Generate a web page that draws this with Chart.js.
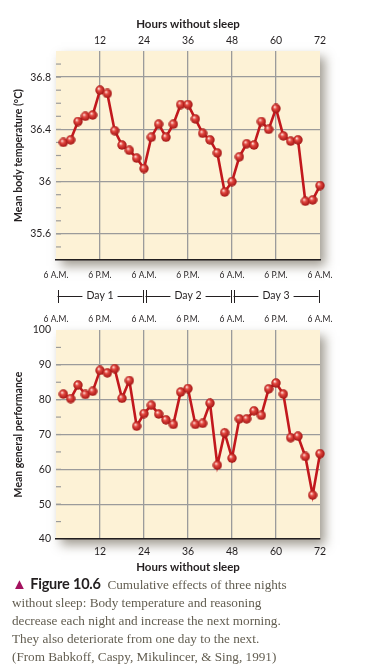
<!DOCTYPE html>
<html><head><meta charset="utf-8">
<script src="https://cdn.jsdelivr.net/npm/chart.js@4"></script>
<style>
html,body{margin:0;padding:0;background:#fff;width:383px;height:671px;overflow:hidden;}
#c1{position:absolute;left:0;top:0;}
#c2{position:absolute;left:0;top:282px;}
#cap{position:absolute;left:12px;top:575px;font-family:'Liberation Serif',serif;font-size:13.2px;line-height:18px;color:#625d50;white-space:nowrap;}
#cap b{font-family:Lato,sans-serif;color:#231f20;font-weight:bold;font-size:14.5px;letter-spacing:-0.2px;}
#cap .tri{color:#a3125f;font-size:15px;}
</style></head><body>
<canvas id="c1" width="383" height="290"></canvas>
<canvas id="c2" width="383" height="298"></canvas>
<div id="cap"><span class="tri">&#9650;</span> <b>Figure 10.6</b>&nbsp; Cumulative effects of three nights<br>without sleep: Body temperature and reasoning<br>decrease each night and increase the next morning.<br>They also deteriorate from one day to the next.<br>(From Babkoff, Caspy, Mikulincer, &amp; Sing, 1991)</div>
<script>
const hours = [2,4,6,8,10,12,14,16,18,20,22,24,26,28,30,32,34,36,38,40,42,44,46,48,50,52,54,56,58,60,62,64,66,68,70,72];
const temperature = [36.30,36.32,36.46,36.50,36.51,36.70,36.675,36.39,36.28,36.24,36.18,36.10,36.34,36.44,36.34,36.44,36.59,36.59,36.48,36.37,36.32,36.22,35.92,36.00,36.19,36.29,36.28,36.46,36.40,36.56,36.35,36.31,36.32,35.85,35.86,35.97];
const performance = [81.6,80.3,84.2,81.5,82.4,88.4,87.7,88.9,80.4,85.5,72.4,76.0,78.4,75.9,74.2,72.9,82.2,83.2,72.9,73.2,79.0,61.2,70.5,63.2,74.5,74.5,76.8,75.5,83.1,84.8,81.6,69.1,69.5,63.7,52.6,64.5];
const hourTicks = [0,12,24,36,48,60,72];
const clockLabels = ['6 A.M.','6 P.M.','6 A.M.','6 P.M.','6 A.M.','6 P.M.','6 A.M.'];
const days = ['Day 1','Day 2','Day 3'];
const dayBounds = [0,24,48,72];

const INK = '#231f20';
const GRID = '#9b9b9b';
const RED = '#c2181d';
const BG = '#fdf2d6';
const FONT = 'Lato, "Open Sans", sans-serif';

function makeBall(){
  const c = document.createElement('canvas'); c.width = 10; c.height = 10;
  const g = c.getContext('2d');
  const grd = g.createRadialGradient(3.6,3.3,0.3,5,5,5);
  grd.addColorStop(0,'#fde0d8'); grd.addColorStop(0.35,'#e2463e'); grd.addColorStop(1,'#9c1010');
  g.fillStyle = grd; g.beginPath(); g.arc(5,5,4.7,0,Math.PI*2); g.fill();
  return c;
}
const ball = makeBall();

const plotBg = {
  id:'plotBg',
  beforeDraw(chart){
    const a = chart.chartArea, ctx = chart.ctx;
    ctx.save();
    ctx.shadowColor = 'rgba(70,60,40,0.5)';
    ctx.shadowBlur = 10; ctx.shadowOffsetX = 5; ctx.shadowOffsetY = 6;
    ctx.fillStyle = BG;
    ctx.fillRect(a.left, a.top, a.right-a.left, a.bottom-a.top);
    ctx.restore();
    ctx.fillStyle = BG;
    ctx.fillRect(a.left, a.top, a.right-a.left, a.bottom-a.top);
  },
  beforeDatasetsDraw(chart){
    const a = chart.chartArea, ctx = chart.ctx, y = chart.scales.y;
    ctx.save(); ctx.strokeStyle = GRID; ctx.lineWidth = 1.2;
    y.ticks.forEach(t => {
      const p = y.getPixelForValue(t.value);
      if (p <= a.top + 1 || p >= a.bottom - 1) return;
      ctx.beginPath(); ctx.moveTo(a.left, p); ctx.lineTo(a.left + 5, p); ctx.stroke();
    });
    ctx.restore();
  }
};

const brackets = {
  id:'brackets',
  afterDraw(chart){
    const x = chart.scales.x, ctx = chart.ctx, y = 14;
    ctx.save();
    ctx.strokeStyle = INK; ctx.lineWidth = 1; ctx.fillStyle = INK;
    ctx.font = '10.5px ' + FONT; ctx.textAlign = 'center'; ctx.textBaseline = 'middle';
    days.forEach((d,i) => {
      const a = x.getPixelForValue(dayBounds[i]) + 1.5;
      const b = x.getPixelForValue(dayBounds[i+1]) - 1.5;
      const m = (a+b)/2, w = ctx.measureText(d).width/2 + 4;
      ctx.beginPath();
      ctx.moveTo(a, y+0.5); ctx.lineTo(m-w, y+0.5);
      ctx.moveTo(m+w, y+0.5); ctx.lineTo(b, y+0.5);
      ctx.moveTo(Math.round(a)+0.5, y-6); ctx.lineTo(Math.round(a)+0.5, y+7);
      ctx.moveTo(Math.round(b)+0.5, y-6); ctx.lineTo(Math.round(b)+0.5, y+7);
      ctx.stroke();
      ctx.fillText(d, m, y);
    });
    ctx.restore();
  }
};

function points(vals){ return hours.map((h,i) => ({x:h, y:vals[i]})); }

function ds(vals){
  return {data: points(vals), borderColor: RED, borderWidth: 2.6, pointStyle: ball,
    pointRadius: 5, pointHoverRadius: 5, clip: false, tension: 0};
}

const hourAxis = (pos, h, pad, titlePad) => ({
  type:'linear', position: pos, min:0, max:72,
  afterBuildTicks: s => { s.ticks = hourTicks.map(v => ({value:v})); },
  afterFit: s => { s.height = h; },
  grid: {drawTicks:false, color: c => (c.tick && (c.tick.value===0 || c.tick.value===72)) ? 'rgba(0,0,0,0)' : GRID, lineWidth:1.3},
  border: {display:false},
  ticks: {padding: pad, color: INK, font:{family:FONT, size:10.5}, maxRotation:0, autoSkip:false,
    callback: v => v === 0 ? '' : String(v)},
  title: {display:true, text:'Hours without sleep', color: INK, font:{family:FONT, size:11.5, weight:'bold'}, padding: titlePad}
});

const clockAxis = (pos, h, pad) => ({
  type:'linear', position: pos, min:0, max:72,
  afterBuildTicks: s => { s.ticks = hourTicks.map(v => ({value:v})); },
  afterFit: s => { s.height = h; },
  grid: {display:false, drawTicks:false},
  border: {display: pos === 'bottom', color: INK, width: 1.6},
  ticks: {padding: pad, color: INK, font:{family:FONT, size:8.5}, maxRotation:0, autoSkip:false,
    callback: v => clockLabels[hourTicks.indexOf(v)]}
});

new Chart(document.getElementById('c1'), {
  type:'line',
  data:{datasets:[ds(temperature)]},
  options:{
    responsive:false, animation:false, devicePixelRatio:1,
    layout:{padding:{left:0, right:63, top:0, bottom:0}},
    plugins:{legend:{display:false}, tooltip:{enabled:false}},
    scales:{
      x: hourAxis('top', 51, 4, {top:17, bottom:0}),
      x2: clockAxis('bottom', 30, 10),
      y: {type:'linear', position:'left', min:35.4, max:37.0,
        afterBuildTicks: s => { const t=[]; for (let i=354;i<=370;i++) t.push({value:i/10}); s.ticks = t; },
        afterFit: s => { s.width = 56; },
        grid:{drawTicks:false, lineWidth:1.3, color: c => { const k = Math.round(c.tick.value*10); return (k%4===0 && k>354 && k<370) ? GRID : 'rgba(0,0,0,0)'; }},
        border:{display:false},
        ticks:{padding:5, color:INK, autoSkip:false, font:{family:FONT, size:10.5},
          callback: v => { const k = Math.round(v*10); return k%4===0 ? String(k/10) : ''; }},
        title:{display:true, text:'Mean body temperature (°C)', color:INK, font:{family:FONT, size:10.5, weight:'bold'}, padding:{top:12,bottom:0}}
      }
    }
  },
  plugins:[plotBg]
});

new Chart(document.getElementById('c2'), {
  type:'line',
  data:{datasets:[ds(performance)]},
  options:{
    responsive:false, animation:false, devicePixelRatio:1,
    layout:{padding:{left:0, right:63, top:0, bottom:0}},
    plugins:{legend:{display:false}, tooltip:{enabled:false}},
    scales:{
      x2: clockAxis('top', 48, 6),
      x: Object.assign(hourAxis('bottom', 41, 6, {top:0, bottom:6}), {border:{display:true, color:INK, width:1.6}}),
      y: {type:'linear', position:'left', min:40, max:100,
        afterBuildTicks: s => { const t=[]; for (let v=40; v<=100; v+=5) t.push({value:v}); s.ticks = t; },
        afterFit: s => { s.width = 56; },
        grid:{drawTicks:false, lineWidth:1.3, color: c => (c.tick.value%10===0 && c.tick.value>40 && c.tick.value<100) ? GRID : 'rgba(0,0,0,0)'},
        border:{display:false},
        ticks:{padding:5, color:INK, autoSkip:false, font:{family:FONT, size:10.5},
          callback: v => v%10===0 ? String(v) : ''},
        title:{display:true, text:'Mean general performance', color:INK, font:{family:FONT, size:10.5, weight:'bold'}, padding:{top:12,bottom:0}}
      }
    }
  },
  plugins:[plotBg, brackets]
});
</script>
</body></html>
